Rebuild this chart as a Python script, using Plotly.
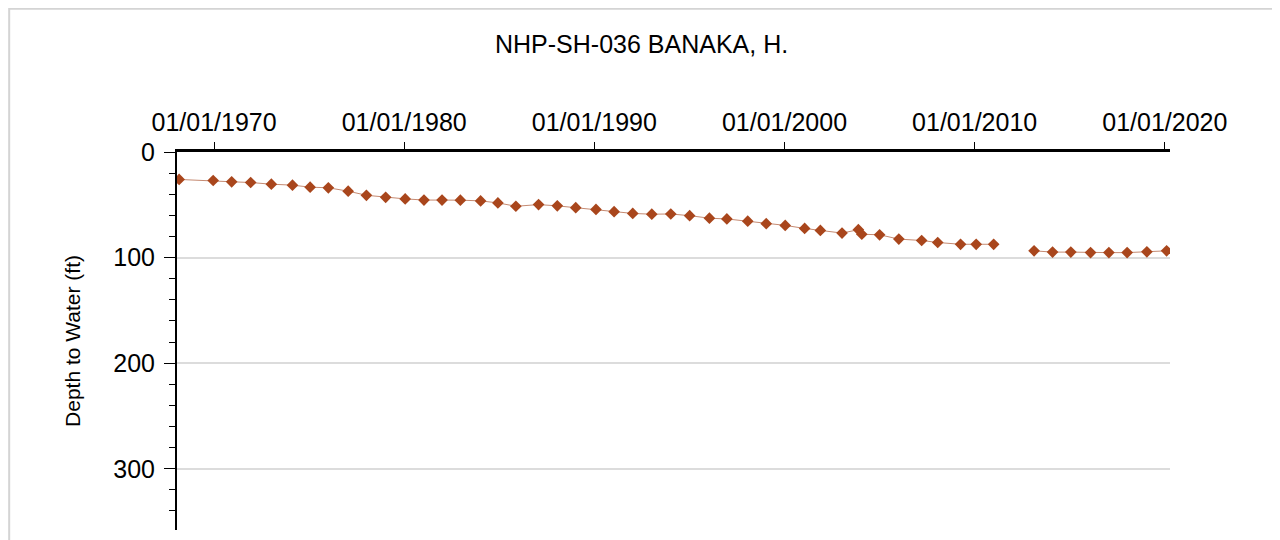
import plotly.graph_objects as go

dates = [
    "1968-03-01", "1969-12-15", "1970-12-05", "1971-12-05", "1973-01-05",
    "1974-02-15", "1975-01-20", "1976-01-05", "1977-01-20", "1978-01-05",
    "1979-01-10", "1980-01-20", "1981-01-15", "1981-12-28", "1982-12-15",
    "1984-01-08", "1984-12-05", "1985-11-15", "1987-01-25", "1988-01-20",
    "1989-01-08", "1990-02-01", "1991-01-15", "1992-01-08", "1993-01-08",
    "1994-01-08", "1995-01-05", "1996-01-20", "1996-12-20", "1998-01-25",
    "1999-01-15", "2000-01-15", "2001-01-22", "2001-11-20", "2003-01-10",
    "2003-11-20", "2004-01-25", "2005-01-01", "2006-01-05", "2007-03-20",
    "2008-01-22", "2009-04-05", "2010-01-30", "2011-01-01", None,
    "2013-02-15", "2014-02-05", "2015-01-22", "2016-02-05", "2017-01-22",
    "2018-01-08", "2019-01-22", "2020-02-05",
]
depth_ft = [
    26.0, 27.0, 28.2, 28.9, 30.5,
    31.4, 33.3, 33.9, 37.1, 41.0,
    42.9, 44.4, 45.5, 45.5, 45.6,
    46.3, 48.2, 51.4, 49.8, 51.0,
    52.7, 54.4, 56.5, 58.2, 58.9,
    58.7, 60.3, 62.7, 63.4, 65.5,
    67.9, 69.5, 72.4, 74.3, 76.8,
    73.6, 77.9, 78.4, 82.5, 83.8,
    85.7, 87.4, 87.4, 87.4, None,
    93.6, 94.8, 94.8, 95.3, 95.3,
    95.3, 94.5, 93.6,
]

title_text = "NHP-SH-036 BANAKA, H."
y_title = "Depth to Water (ft)"

fig = go.Figure()
fig.add_trace(go.Scatter(
    x=dates, y=depth_ft, mode="lines+markers",
    line=dict(color="#c58a72", width=1),
    marker=dict(symbol="diamond", size=9, color="#a9461c"),
    connectgaps=False, showlegend=False,
))

fig.update_layout(
    width=1280, height=540,
    margin=dict(l=169, r=118, t=144, b=18),
    paper_bgcolor="white", plot_bgcolor="white",
    font=dict(family="Liberation Sans, Arial, sans-serif", color="black"),
    title=dict(text=title_text, x=0.495, xref="container", y=0.933,
               yref="container", xanchor="center", yanchor="middle",
               font=dict(size=25, color="black")),
    xaxis=dict(
        type="date", side="top",
        range=["1968-01-20", "2020-04-10"],
        tick0="1970-01-01", dtick="M120", tickformat="%m/%d/%Y",
        ticks="outside", ticklen=7, tickwidth=1, tickcolor="black",
        ticklabelstandoff=1,
        showline=True, linecolor="black", linewidth=3,
        showgrid=False, zeroline=False,
        tickfont=dict(size=25),
    ),
    yaxis=dict(
        range=[358, 0], dtick=100, tick0=0,
        ticks="outside", ticklen=11, tickwidth=1, tickcolor="black",
        ticklabelstandoff=4,
        minor=dict(dtick=20, ticks="outside", ticklen=6, tickcolor="black", showgrid=False),
        showline=True, linecolor="black", linewidth=2,
        showgrid=True, gridcolor="#dcdcdc", gridwidth=1.5,
        zeroline=False,
        tickfont=dict(size=25),
        title=dict(text=y_title, font=dict(size=21), standoff=27),
    ),
)

# light outer frame around the chart image
fig.add_shape(type="rect", xref="paper", yref="paper",
              x0=-0.169, x1=1.104, y0=-0.1, y1=1.379,
              line=dict(color="#d4d4d4", width=2), fillcolor="rgba(0,0,0,0)")

fig.write_html("out.html")
